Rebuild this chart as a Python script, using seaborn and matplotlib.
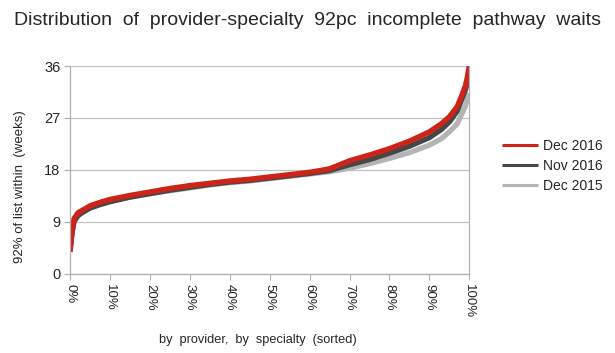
import numpy as np
import pandas as pd
import matplotlib.pyplot as plt
import seaborn as sns
from matplotlib.ticker import PercentFormatter

# percentile position along the sorted provider-specialties (%)
position = [0, 0.5, 1, 2, 3, 5, 7.5, 10, 15, 20, 25, 30, 35, 40, 45, 50, 55,
            60, 65, 70, 75, 80, 85, 90, 93, 95, 97, 98, 99, 99.5, 100]

dec_2016 = [3.8, 7.5, 9.6, 10.6, 11.0, 11.8, 12.4, 12.9, 13.6, 14.2, 14.8, 15.3,
            15.7, 16.1, 16.4, 16.8, 17.2, 17.6, 18.2, 19.6, 20.6, 21.7, 23.0, 24.6,
            26.0, 27.2, 29.0, 30.7, 32.5, 34.0, 36.0]
nov_2016 = [4.2, 7.2, 9.1, 10.1, 10.6, 11.4, 12.0, 12.5, 13.3, 13.9, 14.5, 15.0,
            15.5, 15.9, 16.2, 16.6, 17.0, 17.4, 17.9, 18.9, 19.8, 20.9, 22.1, 23.6,
            25.0, 26.3, 28.2, 30.0, 31.8, 33.0, 34.5]
dec_2015 = [4.5, 7.3, 9.2, 10.2, 10.7, 11.5, 12.1, 12.6, 13.3, 13.9, 14.4, 14.9,
            15.4, 15.8, 16.1, 16.5, 16.9, 17.3, 17.7, 18.3, 19.1, 20.0, 21.0, 22.3,
            23.4, 24.6, 26.0, 27.5, 29.0, 30.2, 31.3]

series = ['Dec 2016', 'Nov 2016', 'Dec 2015']
colors = ['#cc2419', '#474747', '#b4b4b4']

df = pd.DataFrame({
    'position': position * 3,
    'weeks': dec_2016 + nov_2016 + dec_2015,
    'series': np.repeat(series, len(position)),
})

sns.set_style('white')
plt.rcParams['font.family'] = ['Liberation Sans', 'DejaVu Sans']

fig = plt.figure(figsize=(6.15, 3.53), dpi=100)
ax = fig.add_axes([0.114, 0.224, 0.649, 0.589])

# draw back-to-front so the red line sits on top
for name, col in list(zip(series, colors))[::-1]:
    sns.lineplot(data=df[df['series'] == name], x='position', y='weeks',
                 color=col, linewidth=3.8, label=name, ax=ax,
                 solid_capstyle='butt')

ax.set_xlim(0, 100)
ax.set_ylim(0, 36)
ax.set_yticks([0, 9, 18, 27, 36])
ax.set_xticks(range(0, 101, 10))
ax.xaxis.set_major_formatter(PercentFormatter(decimals=0))
ax.grid(axis='y', color='#c0c0c0', linewidth=0.9)
ax.set_axisbelow(True)
for side in ['left', 'right', 'bottom']:
    ax.spines[side].set_color('#b0b0b0')
    ax.spines[side].set_linewidth(0.9)
ax.spines['top'].set_visible(False)
ax.tick_params(axis='x', which='major', length=4, color='#b0b0b0',
               labelsize=9.5, labelrotation=270, pad=3, bottom=True)
ax.tick_params(axis='y', which='major', length=4, color='#b0b0b0',
               labelsize=10.5, pad=3, left=True)

ax.set_xlabel('by  provider,  by  specialty  (sorted)', fontsize=9.2)
ax.xaxis.set_label_coords(0.47, -0.29)
ax.set_ylabel('92% of list within  (weeks)', fontsize=9.5)
ax.yaxis.set_label_coords(-0.11, 0.42)
fig.suptitle('Distribution  of  provider-specialty  92pc  incomplete  pathway  waits',
             fontsize=14, x=0.5, y=0.965)

handles, labels = ax.get_legend_handles_labels()
leg = ax.legend(handles[::-1], labels[::-1], loc='center left',
                bbox_to_anchor=(1.05, 0.52), frameon=False, fontsize=10,
                handlelength=2.6, handletextpad=0.4, labelspacing=0.45)
for line in leg.get_lines():
    line.set_linewidth(2.2)

plt.savefig('out.png', dpi=100)
